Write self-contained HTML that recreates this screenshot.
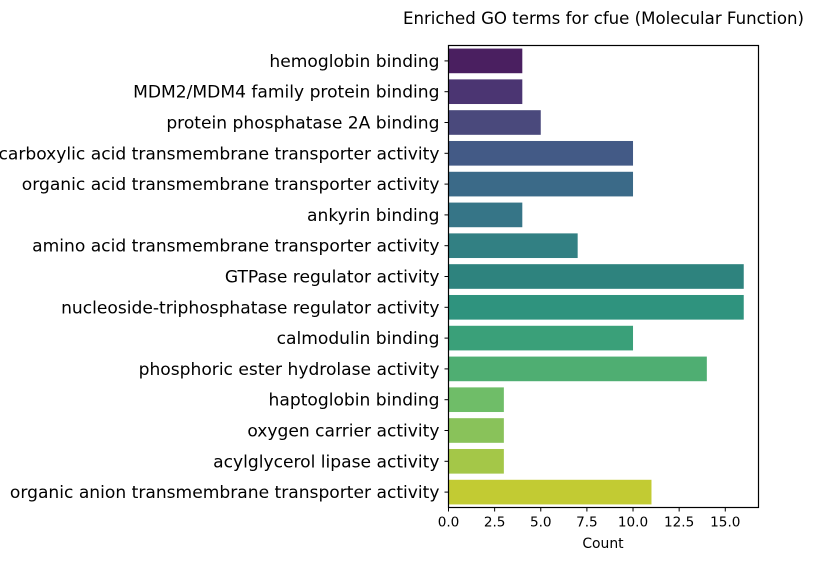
<!DOCTYPE html>
<html><head><meta charset="utf-8"><style>
body{margin:0;background:#fff;}
svg text{font-family:"DejaVu Sans","Liberation Sans",sans-serif;fill:#000;}
</style></head><body>
<svg id="chart" width="813" height="560" xmlns="http://www.w3.org/2000/svg">
<text x="603.5" y="24" text-anchor="middle" font-size="16.6">Enriched GO terms for cfue (Molecular Function)</text>
<g id="bars"></g>
<g id="yaxis"></g>
<g id="xaxis"></g>
<rect x="448.5" y="45.5" width="310" height="462" fill="none" stroke="#000" stroke-width="1.2"/>
<text x="603" y="548" text-anchor="middle" font-size="13.9">Count</text>
</svg>
<script>
const categories=["hemoglobin binding","MDM2/MDM4 family protein binding","protein phosphatase 2A binding","carboxylic acid transmembrane transporter activity","organic acid transmembrane transporter activity","ankyrin binding","amino acid transmembrane transporter activity","GTPase regulator activity","nucleoside-triphosphatase regulator activity","calmodulin binding","phosphoric ester hydrolase activity","haptoglobin binding","oxygen carrier activity","acylglycerol lipase activity","organic anion transmembrane transporter activity"];
const counts=[4,4,5,10,10,4,7,16,16,10,14,3,3,3,11];
const colors=["#4a1f60","#4b3572","#4a497c","#435a86","#3b6a88","#367587","#328083","#2e837e","#2f937e","#3aa079","#4fae72","#6fbd68","#89c25a","#a4c748","#c2cb33"];
const xTicks=[0,2.5,5,7.5,10,12.5,15];
const xTickLabels=["0.0","2.5","5.0","7.5","10.0","12.5","15.0"];
const X0=448.5,Y0=45.5,W=310,H=462,xMax=16.8;
const ns="http://www.w3.org/2000/svg";
const xs=v=>X0+v/xMax*W;
const band=H/categories.length;
const yc=i=>Y0+band*(i+0.5);
function mk(t,a,p){const e=document.createElementNS(ns,t);for(const k in a)e.setAttribute(k,a[k]);p.appendChild(e);return e;}
const gb=document.getElementById('bars'),gy=document.getElementById('yaxis'),gx=document.getElementById('xaxis');
categories.forEach((c,i)=>{
 const r=mk('rect',{x:xs(0),y:yc(i)-band*0.4,width:xs(counts[i])-xs(0),height:band*0.8,fill:colors[i]},gb);
 
 
 const l=mk('line',{x1:X0-4,x2:X0,y1:yc(i),y2:yc(i),stroke:'#000'},gy);
 
 
 const t=mk('text',{x:X0-9,y:yc(i)+6,'text-anchor':'end','font-size':'17.1'},gy);
 t.textContent=c;
 
 
});
xTicks.forEach((v,i)=>{
 const l=mk('line',{x1:xs(v),x2:xs(v),y1:Y0+H,y2:Y0+H+4,stroke:'#000'},gx);
 
 
 const t=mk('text',{x:xs(v),y:Y0+H+19,'text-anchor':'middle','font-size':'13.6'},gx);
 t.textContent=xTickLabels[i];
 
 
});
</script>
</body></html>
